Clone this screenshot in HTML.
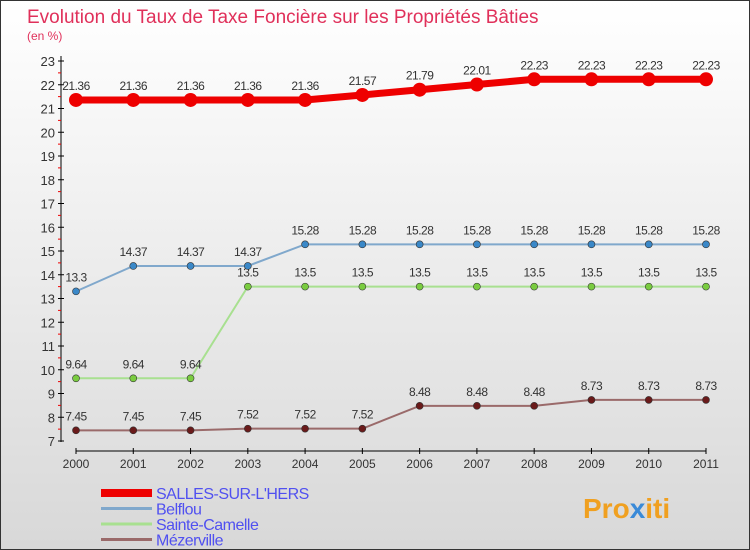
<!DOCTYPE html>
<html><head><meta charset="utf-8"><style>
body{margin:0}
#c{width:750px;height:550px;position:relative;background:linear-gradient(#fff,#d8d8d8);font-family:"Liberation Sans",sans-serif;box-sizing:border-box;border:1px solid #333;overflow:hidden}
</style></head><body>
<div id="c">
<svg id="s" width="750" height="550" style="position:absolute;left:0;top:0">
<text x="26" y="22" font-size="19" fill="#e0305a">Evolution du Taux de Taxe Foncière sur les Propriétés Bâties</text>
<text x="26" y="39" font-size="12" fill="#e0305a">(en %)</text>
<text x="582" y="517" font-size="28" font-weight="bold" fill="#f0a020">Pro<tspan fill="#3a8ad8">x</tspan>iti</text>
</svg>
</div>
<script>
const years=[2000,2001,2002,2003,2004,2005,2006,2007,2008,2009,2010,2011];
const salles=[21.36,21.36,21.36,21.36,21.36,21.57,21.79,22.01,22.23,22.23,22.23,22.23];
const belflou=[13.3,14.37,14.37,14.37,15.28,15.28,15.28,15.28,15.28,15.28,15.28,15.28];
const camelle=[9.64,9.64,9.64,13.5,13.5,13.5,13.5,13.5,13.5,13.5,13.5,13.5];
const mezer=[7.45,7.45,7.45,7.52,7.52,7.52,8.48,8.48,8.48,8.73,8.73,8.73];
const yTicks=[7,8,9,10,11,12,13,14,15,16,17,18,19,20,21,22,23];
const labels={salles:["21.36","21.36","21.36","21.36","21.36","21.57","21.79","22.01","22.23","22.23","22.23","22.23"]};
const s=document.getElementById('s'),NS='http://www.w3.org/2000/svg';
const X=i=>75+i*(630/(years.length-1));
const Y=v=>440-(v-7)*(380/16);
function mk(t,a,p){const e=document.createElementNS(NS,t);for(const k in a)e.setAttribute(k,a[k]);(p||s).appendChild(e);return e;}
mk('line',{x1:60,y1:55,x2:60,y2:441,stroke:'#000'});
yTicks.forEach(v=>{
 mk('line',{x1:57,x2:63,y1:Y(v),y2:Y(v),stroke:'#000'});
 if(v<23)mk('line',{x1:57,x2:60,y1:Y(v+0.5),y2:Y(v+0.5),stroke:'#e00'});
 const t=mk('text',{x:54,y:Y(v)+5,'text-anchor':'end','font-size':13,fill:'#333'});t.textContent=v;
 
 
});
mk('line',{x1:75,y1:450,x2:705,y2:450,stroke:'#000'});
years.forEach((y,i)=>{
 mk('line',{x1:X(i),x2:X(i),y1:447,y2:453,stroke:'#000'});
 const t=mk('text',{x:X(i),y:467,'text-anchor':'middle','font-size':12,fill:'#333'});t.textContent=y;
 
 
});
function series(name,vals,color,dot,w,r,lab){
 const g=mk('g',{});
 
 
 mk('polyline',{points:vals.map((v,i)=>X(i)+','+Y(v)).join(' '),fill:'none',stroke:color,'stroke-width':w},g);
 vals.forEach((v,i)=>{
  const c=mk('circle',{cx:X(i),cy:Y(v),r:r,fill:dot,stroke:'#333','stroke-width':r>4?0:0.6},g);
  
  
  const t=mk('text',{x:X(i),y:Y(v)-10,'text-anchor':'middle','font-size':12,fill:'#333','letter-spacing':'-0.5'},g);
  t.textContent=lab?lab[i]:String(v);
  
  
 });
}
series('mezerville',mezer,'#9a6a6a','#6a1a1a',2,3.5);
series('sainte-camelle',camelle,'#a8e090','#7acc40',2,3.5);
series('belflou',belflou,'#80a8cc','#3a88c8',2,3.5);
series('salles',salles,'#e00','#e00',7,7,labels.salles);
const leg=[['SALLES-SUR-L\'HERS','#e00',8],['Belflou','#80a8cc',3],['Sainte-Camelle','#a8e090',3],['Mézerville','#9a6a6a',3]];
leg.forEach((l,i)=>{
 const g=mk('g',{});
 
 
 const y=492+i*15.5;
 mk('line',{x1:100,x2:151,y1:y,y2:y,stroke:l[1],'stroke-width':l[2]},g);
 const t=mk('text',{x:155,y:y+6,'font-size':16,fill:'#5050f0','letter-spacing':'-0.5'},g);t.textContent=l[0];
});
</script>
</body></html>
